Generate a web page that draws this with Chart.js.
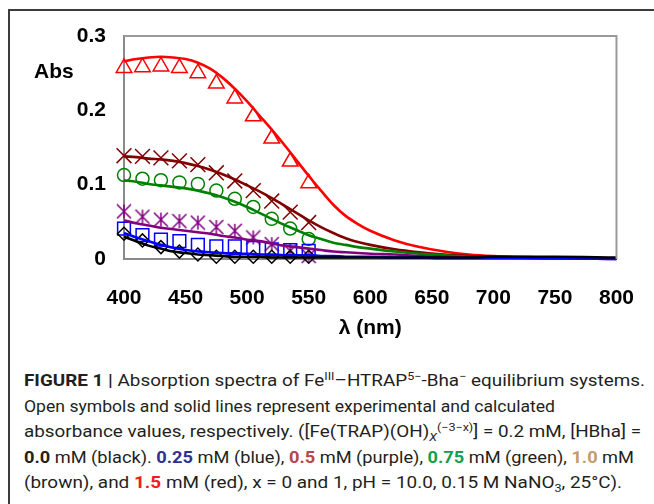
<!DOCTYPE html>
<html>
<head>
<meta charset="utf-8">
<script src="https://cdn.jsdelivr.net/npm/chart.js@4"></script>
<style>
  html, body { margin: 0; padding: 0; background: #fff; }
  #page { position: relative; width: 654px; height: 504px; overflow: hidden; }
  #frame { position: absolute; left: 8px; top: 9px; right: -10px; bottom: -10px;
           border-top: 2px solid #3c3c3c; border-left: 2px solid #3c3c3c; }
  #chartBox { position: absolute; left: 0; top: 0; width: 654px; height: 345px; }
  #caption { position: absolute; left: 24px; top: 368px; font-family: Roboto, "Liberation Sans", sans-serif;
             font-size: 16.5px; line-height: 25.6px; color: #231f20; white-space: nowrap; }
  #caption b { font-weight: bold; }
  #caption sup, #caption sub { line-height: 0; font-size: 11px; }
  .ln { display: block; height: 25.6px; transform-origin: 0 50%; }
</style>
</head>
<body>
<div id="page">
  <div id="frame"></div>
  <div id="chartBox"><canvas id="spectra" width="654" height="345"></canvas></div>
  <div id="caption">
    <span class="ln" data-w="621"><b>FIGURE 1 |</b> Absorption spectra of Fe<sup>III</sup>–HTRAP<sup>5−</sup>-Bha<sup>−</sup> equilibrium systems.</span>
    <span class="ln" data-w="531">Open symbols and solid lines represent experimental and calculated</span>
    <span class="ln" data-w="617">absorbance values, respectively. ([Fe(TRAP)(OH)<sub><i>X</i></sub><sup>(−3−x)</sup>] = 0.2 mM, [HBha] =</span>
    <span class="ln" data-w="610"><b>0.0</b> mM (black). <b style="color:#2e3192">0.25</b> mM (blue), <b style="color:#b4474a">0.5</b> mM (purple), <b style="color:#14a04a">0.75</b> mM (green), <b style="color:#c59b6d">1.0</b> mM</span>
    <span class="ln" data-w="598">(brown), and <b style="color:#ed1c24">1.5</b> mM (red), x = 0 and 1, pH = 10.0, 0.15 M NaNO<sub>3</sub>, 25°C).</span>
  </div>
</div>
<script>
// calculated curves (solid lines)
const calcWavelengths = [400, 410, 420, 430, 440, 450, 460, 470, 480, 490, 500, 510, 520, 530, 540, 550,
  560, 570, 580, 590, 600, 620, 640, 660, 680, 700, 750, 800];
const calcRed = [0.266, 0.269, 0.271, 0.272, 0.271, 0.269, 0.264, 0.256, 0.244, 0.229, 0.212, 0.193, 0.174, 0.154,
  0.133, 0.112, 0.092, 0.073, 0.058, 0.047, 0.038, 0.025, 0.016, 0.010, 0.006, 0.004, 0.002, 0.001];
const calcBrown = [0.138, 0.137, 0.135, 0.134, 0.132, 0.129, 0.125, 0.120, 0.114, 0.107, 0.099, 0.091, 0.082, 0.072,
  0.062, 0.052, 0.043, 0.035, 0.028, 0.023, 0.019, 0.013, 0.009, 0.006, 0.004, 0.003, 0.001, 0.001];
const calcGreen = [0.106, 0.104, 0.101, 0.099, 0.097, 0.095, 0.092, 0.088, 0.083, 0.077, 0.070, 0.062, 0.054, 0.046,
  0.039, 0.032, 0.027, 0.022, 0.019, 0.016, 0.014, 0.010, 0.007, 0.005, 0.003, 0.002, 0.001, 0.001];
const calcPurple = [0.052, 0.048, 0.045, 0.042, 0.040, 0.038, 0.036, 0.034, 0.031, 0.029, 0.026, 0.024, 0.021, 0.018,
  0.016, 0.014, 0.012, 0.010, 0.009, 0.008, 0.007, 0.006, 0.004, 0.003, 0.002, 0.002, 0.001, 0.000];
const calcBlue = [0.035, 0.029, 0.024, 0.019, 0.015, 0.012, 0.010, 0.009, 0.008, 0.007, 0.007, 0.006, 0.006, 0.005,
  0.005, 0.005, 0.004, 0.004, 0.003, 0.003, 0.003, 0.002, 0.002, 0.001, 0.001, 0.001, 0.001, 0.000];
const calcBlack = [0.030, 0.024, 0.018, 0.014, 0.010, 0.008, 0.006, 0.005, 0.004, 0.003, 0.003, 0.003, 0.002, 0.002,
  0.002, 0.002, 0.002, 0.002, 0.002, 0.002, 0.002, 0.002, 0.002, 0.002, 0.002, 0.003, 0.003, 0.002];

// experimental points (open symbols)
const expWavelengths = [400, 415, 430, 445, 460, 475, 490, 505, 520, 535, 550];
const expRed = [0.257, 0.258, 0.259, 0.257, 0.250, 0.236, 0.216, 0.192, 0.162, 0.131, 0.102];
const expBrown = [0.139, 0.138, 0.136, 0.132, 0.127, 0.116, 0.105, 0.092, 0.078, 0.063, 0.049];
const expGreen = [0.113, 0.108, 0.106, 0.103, 0.101, 0.092, 0.081, 0.070, 0.054, 0.041, 0.027];
const expPurple = [0.064, 0.057, 0.053, 0.051, 0.049, 0.043, 0.038, 0.029, 0.020, 0.011, 0.004];
const expBlue = [0.041, 0.032, 0.026, 0.024, 0.019, 0.017, 0.017, 0.015, 0.013, 0.012, 0.011];
const expBlack = [0.034, 0.025, 0.016, 0.010, 0.006, 0.003, 0.003, 0.003, 0.003, 0.003, 0.003];

const xTicks = [400, 450, 500, 550, 600, 650, 700, 750, 800];
const yTicks = [0, 0.1, 0.2, 0.3];

const pairs = (xs, ys) => xs.map((x, i) => ({ x: x, y: ys[i] }));

// excel-like star marker: an X with a vertical bar
function starMarker(color, half) {
  const c = document.createElement('canvas');
  c.width = c.height = half * 2 + 2;
  const g = c.getContext('2d');
  const m = half + 1;
  g.strokeStyle = color;
  g.lineWidth = 1.5;
  g.beginPath();
  g.moveTo(m - half, m - half); g.lineTo(m + half, m + half);
  g.moveTo(m + half, m - half); g.lineTo(m - half, m + half);
  g.moveTo(m, m - half); g.lineTo(m, m + half);
  g.stroke();
  return c;
}

const lineSet = (ys, color) => ({
  type: 'line', data: pairs(calcWavelengths, ys), borderColor: color, borderWidth: 2.6,
  pointRadius: 0, cubicInterpolationMode: 'monotone', fill: false, clip: false, order: 1
});
const markSet = (ys, color, style, r) => ({
  type: 'scatter', data: pairs(expWavelengths, ys), borderColor: color, backgroundColor: 'rgba(0,0,0,0)',
  pointStyle: style, pointRadius: r, borderWidth: 1.5, showLine: false, clip: false, order: 2
});

const boldFont = { family: '"Liberation Sans", Arial, sans-serif', size: 21, weight: 'bold' };

// frame around the plot + "Abs" label
const extras = {
  id: 'extras',
  afterDraw(chart) {
    const { ctx, chartArea: a } = chart;
    ctx.save();
    ctx.strokeStyle = '#9a9a9a';
    ctx.lineWidth = 2;
    ctx.beginPath();
    ctx.moveTo(a.left, a.top); ctx.lineTo(a.right, a.top); ctx.lineTo(a.right, a.bottom);
    ctx.stroke();
    ctx.fillStyle = '#000';
    ctx.font = 'bold 21px "Liberation Sans", Arial, sans-serif';
    ctx.textBaseline = 'middle';
    ctx.fillText('Abs', 34, 72);
    ctx.restore();
  }
};

new Chart(document.getElementById('spectra'), {
  data: {
    datasets: [
      markSet(expBlack, '#000000', 'rectRot', 6.5),
      markSet(expBlue, '#0000ff', 'rect', 9),
      markSet(expPurple, '#800080', starMarker('#800080', 7), 7),
      markSet(expGreen, '#008000', 'circle', 6.5),
      markSet(expBrown, '#800000', 'crossRot', 10.5),
      markSet(expRed, '#ff0000', 'triangle', 9),
      lineSet(calcBlack, '#000000'),
      lineSet(calcBlue, '#0000ff'),
      lineSet(calcPurple, '#800080'),
      lineSet(calcGreen, '#008000'),
      lineSet(calcBrown, '#800000'),
      lineSet(calcRed, '#ff0000')
    ]
  },
  options: {
    responsive: false,
    animation: false,
    events: [],
    layout: { padding: { left: 0, top: 36, right: 33, bottom: 0 } },
    plugins: { legend: { display: false }, tooltip: { enabled: false } },
    scales: {
      x: {
        type: 'linear', min: 400, max: 800,
        afterBuildTicks: s => { s.ticks = xTicks.map(v => ({ value: v })); },
        afterFit: s => { s.height = 86; },
        grid: { display: false, drawOnChartArea: false, drawTicks: true, tickLength: 7, tickColor: '#8a8a8a' },
        border: { color: '#8a8a8a', width: 2 },
        ticks: { color: '#000', font: boldFont, padding: 20, maxRotation: 0 },
        title: { display: true, text: 'λ (nm)', color: '#000', font: boldFont, padding: { top: 2 } }
      },
      y: {
        type: 'linear', min: 0, max: 0.3,
        afterBuildTicks: s => { s.ticks = yTicks.map(v => ({ value: v })); },
        afterFit: s => { s.width = 124; },
        grid: { display: false, drawOnChartArea: false, drawTicks: true, tickLength: 8, tickColor: '#8a8a8a' },
        border: { color: '#8a8a8a', width: 2 },
        ticks: { color: '#000', font: boldFont, padding: 10, callback: v => String(v) }
      }
    }
  },
  plugins: [extras]
});

// squeeze each caption line to the width it has in the figure
document.querySelectorAll('#caption .ln').forEach(el => {
  el.style.display = 'inline-block';
  const w = el.getBoundingClientRect().width;
  el.style.transform = 'scaleX(' + (parseFloat(el.dataset.w) / w) + ')';
  el.style.display = 'block';
  el.style.width = w + 'px';
});
</script>
</body>
</html>
